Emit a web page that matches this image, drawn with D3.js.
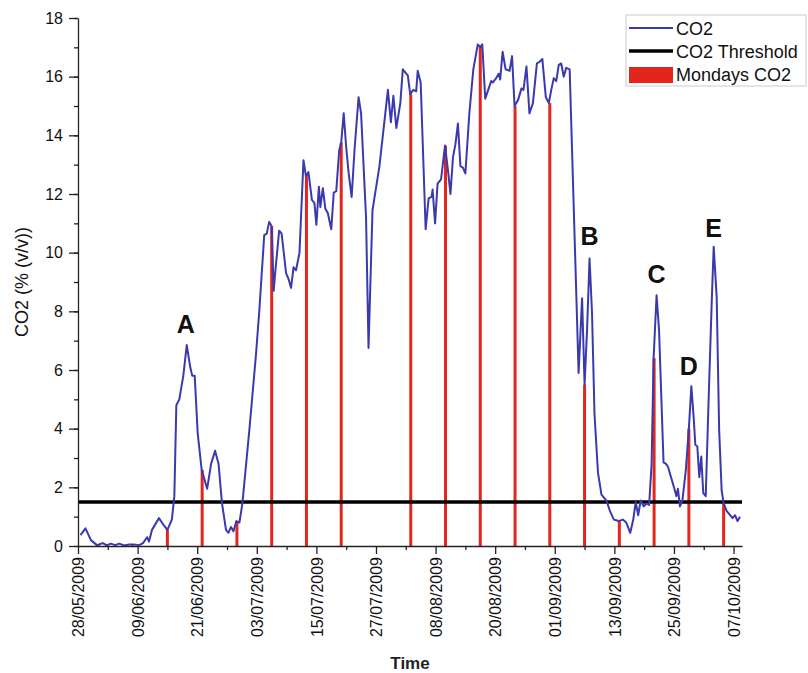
<!DOCTYPE html>
<html>
<head>
<meta charset="utf-8">
<script src="https://cdn.jsdelivr.net/npm/d3@7"></script>
<style>
  body { margin: 0; background: #fff; }
  svg { display: block; font-family: "Liberation Sans", Arial, sans-serif; }
</style>
</head>
<body>
<svg id="chart" width="808" height="673"></svg>
<script>
// CO2 series, day offsets from 28/05/2009
const co2Day = [
  0.5, 1.5, 2.6, 3.8, 4.2, 5.0, 5.8, 6.6, 7.5, 8.3, 9.3, 10.3, 11.3, 12.3, 13.1, 13.9, 14.3, 14.9,
  16.3, 17.3, 18.0, 18.9, 19.4, 19.8, 20.4, 21.2, 21.9, 22.6, 23.0, 23.5, 24.1, 24.9, 26.0, 26.8,
  27.6, 28.3, 29.0, 29.8, 30.3, 30.8, 31.3, 31.9, 32.5, 33.1, 34.5, 35.8, 36.5, 37.5, 38.0, 38.5,
  39.0, 39.4, 39.7, 40.5, 41.0, 41.9, 42.4, 42.9, 43.4, 43.9, 44.6, 45.4, 45.9, 46.4, 47.1, 47.6,
  48.0, 48.5, 48.8, 49.3, 49.8, 50.3, 51.0, 51.5, 52.0, 52.6, 53.0, 53.5, 54.0, 54.5, 55.1, 55.7,
  56.5, 57.0, 58.0, 58.5, 59.3, 60.7, 62.4, 63.0, 63.5, 64.1, 64.9, 65.4, 66.1, 66.4, 66.9, 67.5,
  68.1, 68.4, 69.0, 70.0, 70.6, 71.2, 71.4, 71.9, 72.4, 73.1, 73.9, 74.5, 75.0, 75.5, 76.0, 76.5,
  77.0, 77.5, 78.0, 78.8, 79.6, 80.5, 81.0, 81.4, 82.0, 82.5, 83.2, 83.5, 84.2, 84.7, 85.0, 85.5,
  86.1, 86.9, 87.4, 87.9, 88.6, 89.3, 89.7, 90.3, 90.9, 91.6, 92.4, 92.9, 93.5, 94.2, 94.8, 95.3,
  95.8, 96.3, 96.8, 97.3, 97.8, 98.3, 99.0, 100.8, 101.5, 102.0, 102.5, 103.0, 103.5, 104.0, 104.7,
  105.4, 106.4, 107.1, 107.9, 108.9, 109.7, 110.4, 111.2, 111.8, 112.3, 112.8, 113.3, 113.9, 114.5,
  115.0, 115.5, 115.9, 116.5, 117.0, 117.5, 117.9, 118.4, 118.8, 119.4, 120.0, 120.5, 120.8, 121.2,
  121.7, 122.4, 123.0, 123.5, 124.0, 124.3, 124.7, 125.1, 125.5, 125.9, 126.4, 127.0, 127.6, 128.0,
  128.6, 129.1, 129.6, 130.0, 130.6, 131.3, 131.8, 132.3, 132.8, 133.3
];
const co2Value = [
  0.37, 0.6, 0.2, 0.03, 0.05, 0.1, 0.02, 0.08, 0.03, 0.08, 0.02, 0.05, 0.05, 0.03, 0.1, 0.3, 0.15, 0.55,
  0.95, 0.7, 0.55, 0.9, 1.7, 4.8, 5.0, 5.8, 6.85, 6.1, 5.8, 5.8, 3.85, 2.6, 1.95, 2.8,
  3.25, 2.8, 1.45, 0.55, 0.45, 0.65, 0.5, 0.85, 0.8, 1.45, 3.95, 6.45, 8.0, 10.6, 10.65, 11.05,
  10.9, 8.7, 9.3, 10.75, 10.65, 9.3, 9.1, 8.8, 9.5, 9.4, 10.0, 13.15, 12.6, 12.75, 11.8, 11.7,
  10.95, 12.25, 11.55, 12.2, 11.5, 11.35, 10.8, 12.05, 12.1, 13.5, 13.75, 14.75, 13.6, 12.7, 11.9, 13.55,
  15.3, 14.75, 11.2, 6.75, 11.45, 12.95, 15.55, 14.45, 15.35, 14.25, 15.1, 16.25, 16.1, 16.05, 15.4, 15.55,
  15.5, 16.2, 15.8, 10.8, 11.85, 11.9, 12.15, 11.0, 12.35, 12.5, 13.65, 12.8, 12.0, 13.25, 13.7, 14.4,
  12.95, 12.9, 12.7, 14.75, 16.25, 17.1, 17.0, 17.1, 15.25, 15.5, 15.85, 15.8, 15.95, 16.1, 15.9, 16.85,
  16.25, 16.2, 16.7, 15.0, 15.2, 15.6, 15.55, 16.35, 14.75, 15.1, 16.45, 16.5, 16.6, 15.3, 15.1, 15.55,
  15.95, 15.85, 16.4, 16.45, 16.0, 16.3, 16.25, 5.9, 8.45, 5.5, 7.35, 9.8, 7.95, 4.5, 2.5,
  1.75, 1.55, 1.2, 0.9, 0.85, 0.9, 0.8, 0.45, 0.9, 1.5, 1.05, 1.55, 1.35, 1.45,
  1.4, 2.8, 6.4, 8.55, 7.35, 4.85, 2.85, 2.8, 2.7, 2.35, 2.0, 1.7, 1.95, 1.35,
  1.55, 2.6, 4.0, 5.45, 4.3, 3.45, 3.4, 2.35, 3.05, 1.8, 1.7, 5.1, 8.3, 10.2,
  8.5, 3.95, 1.9, 1.45, 1.2, 1.05, 0.95, 1.05, 0.85, 1.0
];

// Mondays CO2 bars
const mondayDates = [
  '01/06/2009', '08/06/2009', '15/06/2009', '22/06/2009', '29/06/2009', '06/07/2009',
  '13/07/2009', '20/07/2009', '03/08/2009', '10/08/2009', '17/08/2009', '24/08/2009',
  '31/08/2009', '07/09/2009', '14/09/2009', '21/09/2009', '28/09/2009', '05/10/2009'
];
const mondayCO2 = [
  0.05, 0.05, 0.55, 2.6, 0.85, 10.9, 12.6, 13.75, 15.4, 13.65, 17.0, 15.0,
  15.1, 5.5, 0.85, 6.4, 4.0, 1.45
];

const threshold = 1.5;

// axis ticks
const xTickLabels = [
  '28/05/2009', '09/06/2009', '21/06/2009', '03/07/2009', '15/07/2009', '27/07/2009',
  '08/08/2009', '20/08/2009', '01/09/2009', '13/09/2009', '25/09/2009', '07/10/2009'
];
const yTickValues = [0, 2, 4, 6, 8, 10, 12, 14, 16, 18];

// peak annotations (day offset, CO2 level of baseline)
const peakNames = ['A', 'B', 'C', 'D', 'E'];
const peakDay = [21.7, 103.0, 116.5, 123.0, 128.0];
const peakLevel = [7.26, 10.26, 8.97, 5.83, 10.55];

const legendNames = ['CO2', 'CO2 Threshold', 'Mondays CO2'];


const parseDay = d3.utcParse('%d/%m/%Y');
const fmtDay = d3.utcFormat('%d/%m/%Y');
const start = parseDay('28/05/2009');
const atDay = d => new Date(start.getTime() + d * 864e5);

const margin = {top: 18, right: 66, bottom: 127, left: 78};
const width = 808, height = 673;
const w = width - margin.left - margin.right;
const h = height - margin.top - margin.bottom;

const blue = '#3a3aae';
const red = '#e3261d';

const svg = d3.select('#chart');
const main = svg.append('g')
  .attr('transform', `translate(${margin.left},${margin.top})`);

const xScale = d3.scaleUtc()
  .domain([start, atDay(133.7)])
  .range([0, w]);

const yScale = d3.scaleLinear()
  .domain([0, 18])
  .range([h, 0]);

// mondays bars
main.selectAll('.monday')
  .data(mondayDates.map((d, i) => ({date: parseDay(d), value: mondayCO2[i]})))
  .join('rect')
  .attr('class', 'monday')
  .attr('x', d => xScale(d.date) - 1.5)
  .attr('y', d => yScale(d.value))
  .attr('width', 3)
  .attr('height', d => h - yScale(d.value))
  .attr('fill', red);

// threshold
main.append('line')
  .attr('x1', 0)
  .attr('x2', w)
  .attr('y1', yScale(threshold))
  .attr('y2', yScale(threshold))
  .attr('stroke', '#000')
  .attr('stroke-width', 3.5);

// co2 line
const series = co2Day.map((d, i) => ({date: atDay(d), value: co2Value[i]}));
main.append('path')
  .datum(series)
  .attr('fill', 'none')
  .attr('stroke', blue)
  .attr('stroke-width', 2)
  .attr('stroke-linejoin', 'round')
  .attr('d', d3.line()
    .x(d => xScale(d.date))
    .y(d => yScale(d.value)));

// axes
const xMajor = xTickLabels.map(parseDay);
const xMinor = xMajor.map(d => new Date(d.getTime() + 6 * 864e5))
  .filter(d => d <= xScale.domain()[1]);

main.append('g')
  .attr('transform', `translate(0,${h})`)
  .call(d3.axisBottom(xScale).tickValues(xMinor).tickSize(4).tickFormat(''))
  .call(g => g.select('.domain').remove());

const xAxis = main.append('g')
  .attr('transform', `translate(0,${h})`)
  .call(d3.axisBottom(xScale)
    .tickValues(xMajor)
    .tickSize(8)
    .tickSizeOuter(0)
    .tickFormat(fmtDay));
xAxis.selectAll('text')
  .attr('font-size', 16)
  .attr('fill', '#111')
  .attr('text-anchor', 'end')
  .attr('transform', 'rotate(-90)')
  .attr('x', -11)
  .attr('y', 0)
  .attr('dy', '0.36em');

main.append('g')
  .call(d3.axisLeft(yScale).ticks(18).tickSize(4).tickFormat(''))
  .call(g => g.select('.domain').remove());

const yAxis = main.append('g')
  .call(d3.axisLeft(yScale)
    .tickValues(yTickValues)
    .tickSize(9)
    .tickSizeOuter(0));
yAxis.selectAll('text')
  .attr('font-size', 16)
  .attr('fill', '#111')
  .attr('x', -15);

svg.selectAll('.domain, .tick line').attr('stroke', '#222').attr('stroke-width', 1.3);

// axis titles
svg.append('text')
  .attr('transform', `translate(28,${margin.top + h / 2}) rotate(-90)`)
  .attr('text-anchor', 'middle')
  .attr('font-size', 18)
  .attr('fill', '#111')
  .text('CO2 (% (v/v))');

svg.append('text')
  .attr('x', margin.left + w / 2)
  .attr('y', 669)
  .attr('text-anchor', 'middle')
  .attr('font-size', 17)
  .attr('font-weight', 'bold')
  .attr('fill', '#222')
  .text('Time');

// peak letters
main.selectAll('.peak')
  .data(peakNames)
  .join('text')
  .attr('class', 'peak')
  .attr('x', (d, i) => xScale(atDay(peakDay[i])))
  .attr('y', (d, i) => yScale(peakLevel[i]))
  .attr('text-anchor', 'middle')
  .attr('font-size', 25)
  .attr('font-weight', 'bold')
  .attr('fill', '#111')
  .text(d => d);

// legend
const legend = svg.append('g').attr('transform', 'translate(626,15)');
legend.append('rect')
  .attr('width', 180)
  .attr('height', 71)
  .attr('fill', '#fff')
  .attr('stroke', '#ccc');
legend.append('line')
  .attr('x1', 3).attr('x2', 47).attr('y1', 13).attr('y2', 13)
  .attr('stroke', blue).attr('stroke-width', 2);
legend.append('line')
  .attr('x1', 3).attr('x2', 47).attr('y1', 36).attr('y2', 36)
  .attr('stroke', '#000').attr('stroke-width', 3.5);
legend.append('rect')
  .attr('x', 3).attr('y', 52).attr('width', 44).attr('height', 16)
  .attr('fill', red);
legend.selectAll('.ltext')
  .data(legendNames)
  .join('text')
  .attr('class', 'ltext')
  .attr('x', 50)
  .attr('y', (d, i) => 20 + i * 23)
  .attr('font-size', 18)
  .attr('fill', '#111')
  .text(d => d);
</script>
</body>
</html>
